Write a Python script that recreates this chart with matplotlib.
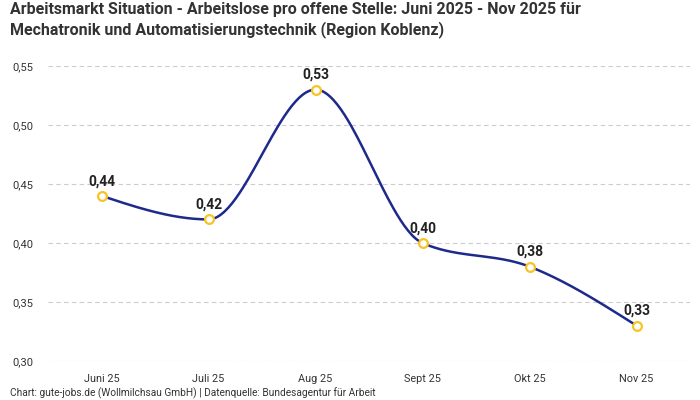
import matplotlib
matplotlib.use("Agg")
import matplotlib.pyplot as plt
import numpy as np

months = ["Juni 25", "Juli 25", "Aug 25", "Sept 25", "Okt 25", "Nov 25"]
values = [0.44, 0.42, 0.53, 0.40, 0.38, 0.33]
yticks = [0.30, 0.35, 0.40, 0.45, 0.50, 0.55]

title = ("Arbeitsmarkt Situation - Arbeitslose pro offene Stelle: Juni 2025 - Nov 2025 für\n"
         "Mechatronik und Automatisierungstechnik (Region Koblenz)")
footer = "Chart: gute-jobs.de (Wollmilchsau GmbH) | Datenquelle: Bundesagentur für Arbeit"

plt.rcParams['font.family'] = ['Roboto', 'DejaVu Sans']

def fmt(v):
    return f"{v:.2f}".replace(".", ",")

def monotone_x(x, y, n=60):
    x = np.asarray(x, float); y = np.asarray(y, float)
    m = len(x)
    h = np.diff(x)
    s = np.diff(y) / h
    t = np.zeros(m)
    for i in range(1, m - 1):
        s0, s1 = s[i - 1], s[i]
        p = (s0 * h[i] + s1 * h[i - 1]) / (h[i - 1] + h[i])
        t[i] = (np.sign(s0) + np.sign(s1)) * min(abs(s0), abs(s1), 0.5 * abs(p))
    t[0] = (3 * s[0] - t[1]) / 2
    t[-1] = (3 * s[-1] - t[-2]) / 2
    xs, ys = [], []
    for i in range(m - 1):
        u = np.linspace(0, 1, n)
        h00 = 2*u**3 - 3*u**2 + 1
        h10 = u**3 - 2*u**2 + u
        h01 = -2*u**3 + 3*u**2
        h11 = u**3 - u**2
        xs.append(x[i] + u * h[i])
        ys.append(h00*y[i] + h10*h[i]*t[i] + h01*y[i+1] + h11*h[i]*t[i+1])
    return np.concatenate(xs), np.concatenate(ys)

fig = plt.figure(figsize=(7, 4), dpi=100)
ax = fig.add_axes([48/700, 1 - 361/400, (690-48)/700, (361-66)/400])

xpos = np.arange(len(months))
cx, cy = monotone_x(xpos, values)
ax.plot(cx, cy, color="#1d2a8c", lw=1.8, zorder=3, solid_capstyle="round")
ax.scatter(xpos, values, s=40, facecolor="white", edgecolor="#f7c325", linewidth=1.6, zorder=4)
for xi, v in zip(xpos, values):
    ax.annotate(fmt(v), (xi, v), xytext=(0, 5.5), textcoords="offset points",
                ha="center", va="bottom", fontsize=10, fontweight="bold", color="#222222")

ax.set_xlim(-0.5, len(months) - 0.5)
ax.set_ylim(0.30, 0.55)
ax.set_yticks(yticks)
ax.set_yticklabels([fmt(v) for v in yticks])
ax.set_xticks(xpos)
ax.set_xticklabels(months)
ax.tick_params(axis="both", length=0, colors="#333333")
ax.tick_params(axis="y", pad=10.5, labelsize=8)
ax.tick_params(axis="x", pad=9, labelsize=7.8)
for sp in ax.spines.values():
    sp.set_visible(False)
ax.grid(axis="y", color="#cccccc", linestyle=(0, (4, 3)), lw=0.8)
ax.set_axisbelow(True)

fig.text(10/700, 1 - 2/400, title, ha="left", va="top", fontsize=11.5,
         fontweight="bold", color="#333333", linespacing=1.3)
fig.text(10/700, 1 - 393/400, footer, ha="left", va="center", fontsize=7.3, color="#333333")

fig.savefig("out.png", dpi=100)
